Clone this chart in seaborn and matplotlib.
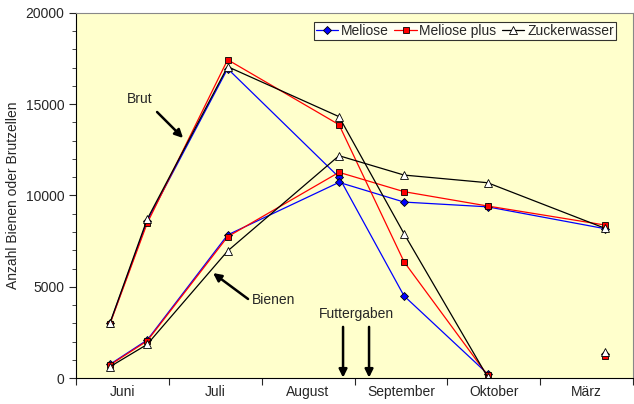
import numpy as np
import pandas as pd
import matplotlib
matplotlib.use('Agg')
import matplotlib.pyplot as plt
import seaborn as sns
from matplotlib.ticker import MultipleLocator, FixedLocator, NullFormatter, FixedFormatter

# Tage ab 1. Juni (Monat = 30 Tage breit auf der Achse)
tage = [11, 23, 49, 85, 106, 133, 171]
monate = ['Juni', 'Juli', 'August', 'September', 'Oktober', 'März']

# Brut (Brutzellen), letzter Wert März ist nicht verbunden
brut_meliose = [3000, 8600, 16950, 11000, 4500, 230, 1300]
brut_meliose_plus = [2980, 8480, 17440, 13880, 6370, 150, 1200]
brut_zucker = [3030, 8700, 17060, 14320, 7910, 60, 1440]

# Bienen
bienen_meliose = [750, 2080, 7840, 10720, 9640, 9380, 8180]
bienen_meliose_plus = [720, 2030, 7740, 11270, 10210, 9425, 8380]
bienen_zucker = [620, 1840, 6960, 12180, 11120, 10700, 8200]

# Futtergaben (Tage)
futter = [86.3, 94.7]

sns.set_style('ticks')
plt.rcParams['font.family'] = ['Liberation Sans', 'DejaVu Sans']

fig = plt.figure(figsize=(6.34, 4.04), dpi=100)
ax = fig.add_axes([76 / 634, 26 / 404, 557 / 634, 365 / 404])
ax.set_facecolor('#FFFFCC')

serien = [
    ('Meliose', brut_meliose, bienen_meliose, '#0000FF', 'D', '#0000FF', 4),
    ('Meliose plus', brut_meliose_plus, bienen_meliose_plus, '#FF0000', 's', '#FF0000', 5),
    ('Zuckerwasser', brut_zucker, bienen_zucker, '#000000', '^', 'white', 5.5),
]

for name, brut, bienen, farbe, marker, fuell, ms in serien:
    df_b = pd.DataFrame({'tag': tage[:6], 'wert': brut[:6]})
    sns.lineplot(data=df_b, x='tag', y='wert', ax=ax, color=farbe, lw=0.9, sort=False,
                 marker=marker, markersize=ms, markerfacecolor=fuell,
                 markeredgecolor='black', markeredgewidth=0.6, label=name)
    ax.plot(tage[6], brut[6], marker=marker, markersize=ms, markerfacecolor=fuell,
            markeredgecolor='black', markeredgewidth=0.6, ls='none')
    df_n = pd.DataFrame({'tag': tage, 'wert': bienen})
    sns.lineplot(data=df_n, x='tag', y='wert', ax=ax, color=farbe, lw=0.9, sort=False,
                 marker=marker, markersize=ms, markerfacecolor=fuell,
                 markeredgecolor='black', markeredgewidth=0.6)

ax.set_xlim(0, 180)
ax.set_ylim(0, 20000)
ax.set_xlabel('')
ax.set_ylabel('Anzahl Bienen oder Brutzellen', fontsize=10)

ax.xaxis.set_major_locator(FixedLocator(np.arange(0, 181, 30)))
ax.xaxis.set_major_formatter(NullFormatter())
ax.xaxis.set_minor_locator(FixedLocator(np.arange(15, 180, 30)))
ax.xaxis.set_minor_formatter(FixedFormatter(monate))
ax.tick_params(axis='x', which='minor', length=0, labelsize=10, pad=5)
ax.tick_params(axis='x', which='major', length=5, direction='out')
ax.yaxis.set_major_locator(MultipleLocator(5000))
ax.yaxis.set_minor_locator(MultipleLocator(1000))
ax.tick_params(axis='y', which='major', length=5, labelsize=10, direction='out')
ax.tick_params(axis='y', which='minor', length=3, direction='out')

for s in ['left', 'bottom']:
    ax.spines[s].set_color('black')
for s in ['top', 'right']:
    ax.spines[s].set_visible(True)
    ax.spines[s].set_color('#888888')

# Beschriftungen mit Pfeilen
pfeil = dict(arrowstyle='-|>', color='black', lw=1.8, mutation_scale=12,
             shrinkA=0, shrinkB=0)
ax.text(20.7, 15290, 'Brut', fontsize=10, ha='center', va='center')
ax.annotate('', xy=(34.6, 13150), xytext=(26.2, 14575), arrowprops=pfeil)
ax.text(63.7, 4270, 'Bienen', fontsize=10, ha='center', va='center')
ax.annotate('', xy=(44.3, 5750), xytext=(55.6, 4330), arrowprops=pfeil)
ax.text(90.5, 3500, 'Futtergaben', fontsize=10, ha='center', va='center')
for f in futter:
    ax.annotate('', xy=(f, 20), xytext=(f, 2800), arrowprops=pfeil)

leg = ax.legend(loc='upper right', bbox_to_anchor=(0.9695, 0.9753), ncol=3, fontsize=10,
                frameon=True, fancybox=False, handlelength=1.6, handletextpad=0.2,
                columnspacing=0.4, borderpad=0.15, borderaxespad=0)
leg.get_frame().set_edgecolor('black')
leg.get_frame().set_linewidth(0.8)

plt.savefig('out.png', dpi=100)
